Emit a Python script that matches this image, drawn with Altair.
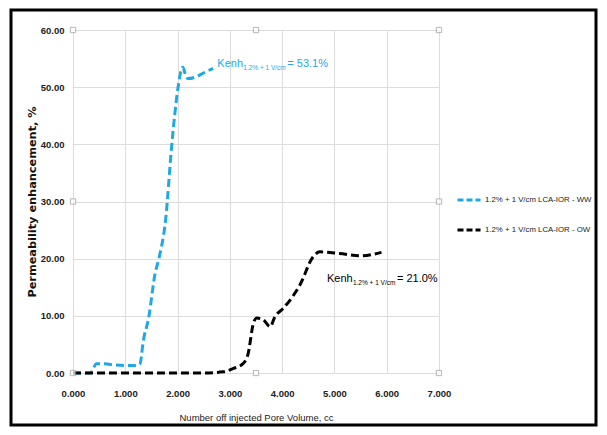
import altair as alt
import pandas as pd

# ---- data ----
ww_x = [0, 0.1, 0.2, 0.33, 0.45, 0.6, 0.8, 1.0, 1.2, 1.28, 1.31, 1.33, 1.45, 1.57, 1.65, 1.77, 1.89, 2.01, 2.07, 2.10, 2.15, 2.20, 2.35, 2.5, 2.68]
ww_y = [0, 0, 0, 0, 1.6, 1.6, 1.4, 1.3, 1.3, 1.6, 3.0, 4.6, 9.8, 17.4, 20.3, 26.7, 40, 50, 53, 53.5, 52.2, 51.5, 51.8, 52.5, 53.3]
ow_x = [0, 0.5, 1.0, 1.5, 2.0, 2.5, 2.87, 3.07, 3.26, 3.35, 3.45, 3.51, 3.64, 3.77, 3.86, 4.02, 4.18, 4.34, 4.59, 4.72, 5.1, 5.49, 5.9]
ow_y = [0, 0, 0, 0, 0, 0, 0.2, 0.8, 1.7, 3.4, 8.7, 9.6, 9.3, 8.1, 9.8, 11.3, 13.1, 15.4, 20.3, 21.2, 20.9, 20.5, 21.1]

series_names = ["1.2% + 1 V/cm LCA-IOR - WW", "1.2% + 1 V/cm LCA-IOR - OW"]
series_colors = ["#1EA9E6", "#000000"]

x_ticks = [0, 1, 2, 3, 4, 5, 6, 7]
y_ticks = [0, 10, 20, 30, 40, 50, 60]

# annotations: "Kenh" + subscript + value
ann_main = ["Kenh", "Kenh"]
ann_sub = ["1.2% + 1 V/cm", "1.2% + 1 V/cm"]
ann_val = ["= 53.1%", "= 21.0%"]
ann_x = [2.76, 4.857]
ann_y = [53.6, 15.9]
ann_colors = ["#1EA9E6", "#000000"]

# selection handles (Excel chart area)
handle_x = [0, 3.5, 7, 0, 7, 0, 3.5, 7]
handle_y = [60, 60, 60, 30, 30, 0, 0, 0]

FONT = "Liberation Sans"

rows = []
for n, xs, ys in [(series_names[0], ww_x, ww_y), (series_names[1], ow_x, ow_y)]:
    for i, (a, b) in enumerate(zip(xs, ys)):
        rows.append({"series": n, "x": a, "y": b, "order": i})
df = pd.DataFrame(rows)

xscale = alt.Scale(domain=[0, 7], nice=False, zero=False)
yscale = alt.Scale(domain=[0, 60], nice=False)

lines = alt.Chart(df).mark_line(
    strokeWidth=3, strokeDash=[8, 4], interpolate="monotone"
).encode(
    x=alt.X("x:Q", scale=xscale,
            axis=alt.Axis(values=x_ticks, format=".3f", title="Number off injected Pore Volume, cc",
                          grid=True, domain=False, ticks=False, labelPadding=15, labelFlush=False,
                          labelFont=FONT, labelFontSize=9.5, labelFontWeight="bold", labelColor="#222",
                          titleFont=FONT, titleFontSize=9.5, titleFontWeight="normal", titleColor="#222",
                          titlePadding=15)),
    y=alt.Y("y:Q", scale=yscale,
            axis=alt.Axis(values=y_ticks, format=".2f", title="Permeability enhancement, %",
                          grid=True, domain=False, ticks=False, labelPadding=9,
                          labelFont=FONT, labelFontSize=9.5, labelFontWeight="bold", labelColor="#222",
                          titleFont="DejaVu Sans", titleFontSize=11.3, titleFontWeight="bold", titleColor="#111",
                          titlePadding=3)),
    color=alt.Color("series:N", scale=alt.Scale(domain=series_names, range=series_colors),
                    legend=alt.Legend(title=None, orient="none", legendX=383, legendY=157,
                                      symbolType="stroke", symbolDash=[6, 3], symbolStrokeWidth=3,
                                      symbolSize=529, labelFont=FONT, labelFontSize=7.8,
                                      labelColor="#222", rowPadding=11, labelOffset=3, labelLimit=200)),
    order="order:Q",
    detail="series:N",
)

ann_df = pd.DataFrame({
    "main": ann_main, "sub": ann_sub, "val": ann_val,
    "x": ann_x, "y": ann_y, "c": ann_colors,
})

def txt(field, size, dx, dy):
    return alt.Chart(ann_df).mark_text(align="left", baseline="alphabetic", font=FONT,
                                       fontSize=size, dx=dx, dy=dy).encode(
        x=alt.X("x:Q", scale=xscale),
        y=alt.Y("y:Q", scale=yscale),
        text=f"{field}:N",
        color=alt.Color("c:N", scale=None),
    )

t_main = txt("main", 11, 0, 0)
t_sub = txt("sub", 6.5, 26, 3)
t_val = txt("val", 11, 70, 0)

hdf = pd.DataFrame({"x": handle_x, "y": handle_y})
handles = alt.Chart(hdf).mark_square(size=28, filled=True, fill="white", stroke="#999", strokeWidth=1).encode(
    x=alt.X("x:Q", scale=xscale), y=alt.Y("y:Q", scale=yscale)
)

frame = alt.Chart(pd.DataFrame({"k": [0]})).mark_rect(
    fill=None, filled=False, stroke="black", strokeWidth=3
).encode(
    x=alt.value(-62), x2=alt.value(523), y=alt.value(-20), y2=alt.value(395)
)

chart = alt.layer(frame, lines, t_main, t_sub, t_val, handles).properties(
    width=366, height=343,
    padding={"left": 65, "top": 22, "right": 160, "bottom": 54},
    autosize=alt.AutoSizeParams(type="none"),
).configure_axis(
    gridColor="#A9A9A9", gridWidth=1
).configure_view(stroke=None).configure(background="white")

chart.save("out.html", embed_options={"renderer": "svg", "actions": False})
